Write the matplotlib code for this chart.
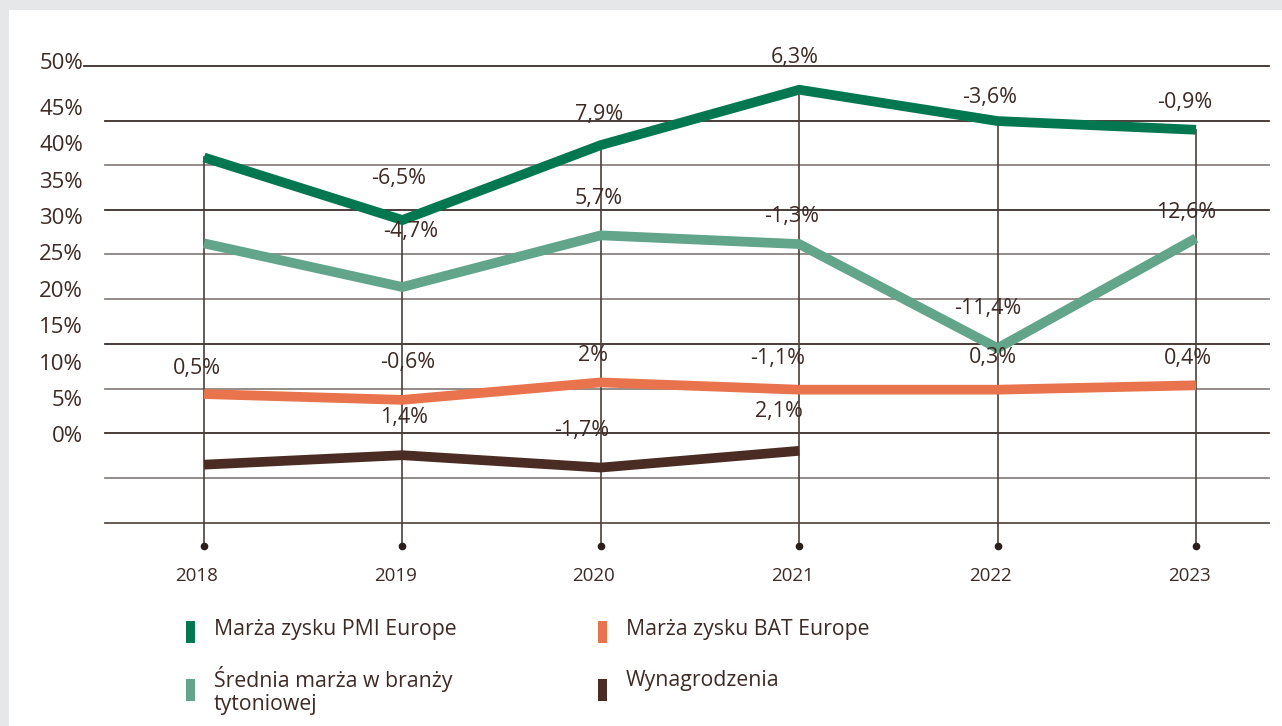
import matplotlib.pyplot as plt
from matplotlib.patches import Rectangle

plt.rcParams['font.family'] = ['Open Sans', 'DejaVu Sans']

# data
years = ["2018", "2019", "2020", "2021", "2022", "2023"]
pmi = [38.4, 29.8, 40.1, 47.7, 43.4, 42.2]
srednia = [26.6, 20.6, 27.7, 26.5, 12.2, 27.3]
bat = [5.9, 5.1, 7.5, 6.5, 6.5, 7.1]
wynagrodzenia = [-3.8, -2.5, -4.2, -1.9]

pmi_lab = [None, "-6,5%", "7,9%", "6,3%", "-3,6%", "-0,9%"]
srednia_lab = [None, "-4,7%", "5,7%", "-1,3%", "-11,4%", "12,6%"]
bat_lab = ["0,5%", "-0,6%", "2%", "-1,1%", "0,3%", "0,4%"]
wyn_lab = [None, "1,4%", "-1,7%", "2,1%"]

y_labels = ["0%", "5%", "10%", "15%", "20%", "25%", "30%", "35%", "40%", "45%", "50%"]
y_vals = [0, 5, 10, 15, 20, 25, 30, 35, 40, 45, 50]
grid_levels = [50.9, 43.4, 37.3, 31.2, 25.1, 18.9, 12.8, 6.6, 0.5, -5.6, -11.8]

# label offsets (pixels) relative to the point
pmi_off = [None, (-4, 42), (-2, 31), (-4, 32), (-8, 24), (-11, 27)]
srednia_off = [None, (8, 56), (-2, 37), (-8, 28), (-10, 40), (-10, 26)]
bat_off = [(-7, 26), (5, 37), (-8, 27), (-22, 31), (-5, 32), (-8, 27)]
wyn_off = [None, (2, 38), (-19, 37), (-20, 39)]

c_pmi = "#03774f"
c_sr = "#62a58a"
c_bat = "#e8734d"
c_wyn = "#4a2c25"
c_txt = "#3d2a25"

W, H = 1282, 726
fig = plt.figure(figsize=(W / 100, H / 100), dpi=100)
fig.patch.set_facecolor("#e6e7e9")
fig.patches.append(Rectangle((9 / W, 0), 1, (H - 10) / H, transform=fig.transFigure,
                             facecolor="white", edgecolor="none", zorder=-5))

ax = fig.add_axes([0, 0, 1, 1])
ax.patch.set_alpha(0)
ax.axis("off")
xs = 198.4
ys = 7.28
ax.set_xlim(-204 / xs, (W - 204) / xs)
ax.set_ylim(-289 / ys, (H - 289) / ys)

# horizontal grid
grid_cols = ["#3b2e2a", "#3b2e2a", "#8c8480", "#3b2e2a", "#8c8480", "#8c8480",
             "#3b2e2a", "#8c8480", "#3b2e2a", "#8c8480", "#5a4e4a"]
for k, (g, gc) in enumerate(zip(grid_levels, grid_cols)):
    x0 = (84 - 204) / xs if k == 0 else (105 - 204) / xs
    ax.plot([x0, (1269 - 204) / xs], [g, g], color=gc, lw=1.3, zorder=1)

# vertical lines and dots
x = list(range(len(years)))
for i in x:
    ax.plot([i, i], [pmi[i], -15], color="#4a403c", lw=1.2, zorder=1)
    ax.plot(i, -15, "o", color="#2a1e1b", ms=4.5, zorder=2)
    ax.annotate(years[i], (i, -15), xytext=(-7, -30), textcoords="offset pixels",
                ha="center", va="center", fontsize=13.5, color=c_txt)

# y labels
for v, t in zip(y_vals, y_labels):
    dy = 9 if v == 50 else 0
    ax.annotate(t, (0, v), xytext=(-121, dy), textcoords="offset pixels",
                ha="right", va="center", fontsize=16, color=c_txt)

# series
for vals, col in [(pmi, c_pmi), (srednia, c_sr), (bat, c_bat), (wynagrodzenia, c_wyn)]:
    ax.plot(range(len(vals)), vals, color=col, lw=7, solid_joinstyle="miter",
            solid_capstyle="butt", zorder=3)

for vals, labs, offs in [(pmi, pmi_lab, pmi_off), (srednia, srednia_lab, srednia_off),
                         (bat, bat_lab, bat_off), (wynagrodzenia, wyn_lab, wyn_off)]:
    for i, (v, t, o) in enumerate(zip(vals, labs, offs)):
        if t is None:
            continue
        ax.annotate(t, (i, v), xytext=o, textcoords="offset pixels",
                    ha="center", va="center", fontsize=15.5, color=c_txt, zorder=4)

# legend
leg = [("Marża zysku PMI Europe", c_pmi, 186, 621, 635),
       ("Średnia marża w branży\ntytoniowej", c_sr, 186, 679, 710),
       ("Marża zysku BAT Europe", c_bat, 598, 621, 635),
       ("Wynagrodzenia", c_wyn, 598, 679, 686)]
for t, col, lx, ly, base in leg:
    fig.patches.append(Rectangle((lx / W, 1 - (ly + 22) / H), 9 / W, 22 / H,
                                 transform=fig.transFigure, facecolor=col, edgecolor="none"))
    fig.text((lx + 28) / W, 1 - base / H, t, ha="left", va="baseline", fontsize=15.3,
             color=c_txt, linespacing=1.15)

fig.savefig("out.png", dpi=100)
